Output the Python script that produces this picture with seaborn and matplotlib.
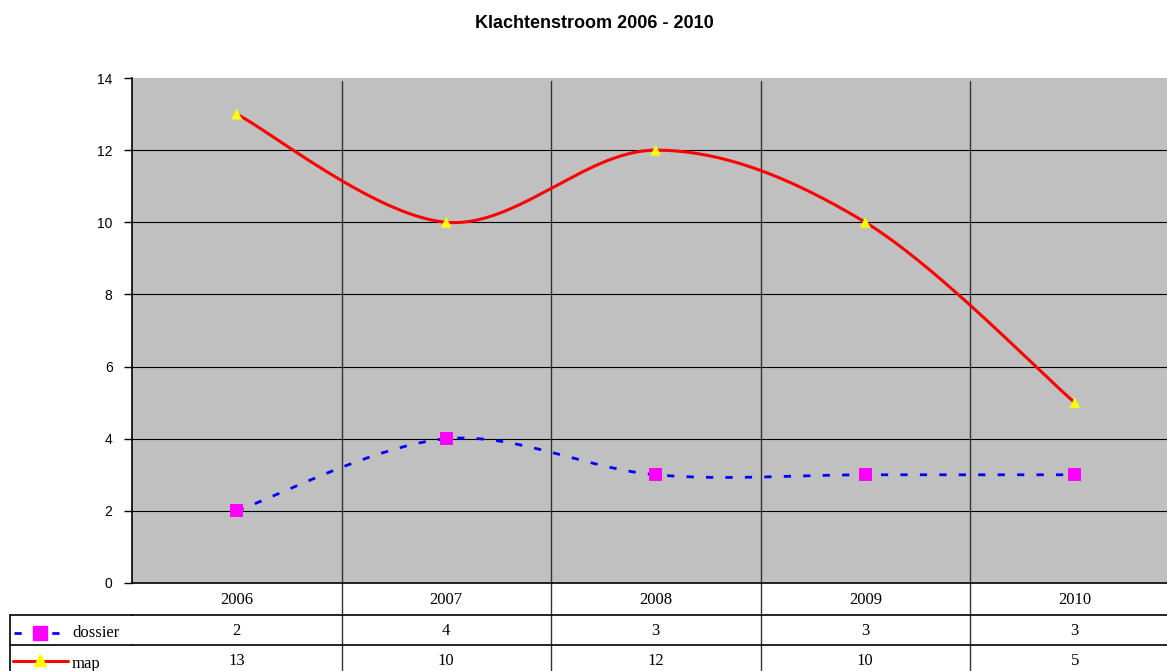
import numpy as np
import pandas as pd
import matplotlib
matplotlib.use("Agg")
import matplotlib.pyplot as plt
import matplotlib.transforms as mtransforms
from matplotlib.lines import Line2D
import seaborn as sns

# Chart data
TITLE = "Klachtenstroom 2006 - 2010"
years = ["2006", "2007", "2008", "2009", "2010"]
dossier = [2, 4, 3, 3, 3]
map_counts = [13, 10, 12, 10, 5]
y_ticks = [0, 2, 4, 6, 8, 10, 12, 14]

GRAY_BG = "#C0C0C0"
SERIF = ["Liberation Serif", "DejaVu Serif"]
DASHES = [2.6, 4.4]


def smooth_curve(xs, ys, steps=40):
    # Excel-style smoothed line: Bezier segments with Catmull-Rom tangents
    pts = np.column_stack([xs, ys]).astype(float)
    n = len(pts)
    out = []
    for i in range(n - 1):
        p0 = pts[max(i - 1, 0)]
        p1 = pts[i]
        p2 = pts[i + 1]
        p3 = pts[min(i + 2, n - 1)]
        b1 = p1 + (p2 - p0) / 6.0
        b2 = p2 - (p3 - p1) / 6.0
        t = np.linspace(0, 1, steps, endpoint=(i == n - 2))[:, None]
        seg = ((1 - t) ** 3) * p1 + 3 * ((1 - t) ** 2) * t * b1 + 3 * (1 - t) * t ** 2 * b2 + t ** 3 * p2
        out.append(seg)
    out = np.vstack(out)
    return out[:, 0], out[:, 1]


sns.set_style("white")
plt.rcParams.update({
    "font.family": ["Liberation Sans", "DejaVu Sans"],
    "axes.edgecolor": "black",
    "text.color": "black",
    "ytick.color": "black",
})

fig = plt.figure(figsize=(11.67, 6.71), dpi=100)
ax = fig.add_axes([132 / 1167, 88 / 671, 1047.5 / 1167, 505 / 671])
ax.set_facecolor(GRAY_BG)

xs = np.arange(len(years))
mx, my = smooth_curve(xs, map_counts)
dx, dy = smooth_curve(xs, dossier)

curves = pd.concat([
    pd.DataFrame({"x": mx, "y": my, "serie": "map"}),
    pd.DataFrame({"x": dx, "y": dy, "serie": "dossier"}),
])
sns.lineplot(data=curves[curves.serie == "map"], x="x", y="y", ax=ax, sort=False,
             estimator=None, color="#FF0000", lw=2.2, zorder=3)
sns.lineplot(data=curves[curves.serie == "dossier"], x="x", y="y", ax=ax, sort=False,
             estimator=None, color="#0000FF", lw=2.0, zorder=3)
ax.lines[-1].set_dashes(DASHES)

pts = pd.DataFrame({"x": xs, "map": map_counts, "dossier": dossier})
sns.scatterplot(data=pts, x="x", y="map", ax=ax, marker="^", s=60, color="#FFFF00",
                edgecolor="none", zorder=4)
sns.scatterplot(data=pts, x="x", y="dossier", ax=ax, marker="s", s=90, color="#FF00FF",
                edgecolor="none", zorder=4)

ax.set_xlim(-0.5, len(years) - 0.5)
ax.set_ylim(0, 14)
ax.set_yticks(y_ticks)
ax.set_yticklabels([str(v) for v in y_ticks], fontsize=10)
ax.set_xticks([])
ax.set_xlabel("")
ax.set_ylabel("")
ax.tick_params(axis="y", direction="out", length=6, width=1, color="black", left=True, pad=8)
ax.grid(False)
for v in y_ticks[1:-1]:
    ax.axhline(v, color="black", lw=0.8, zorder=1)
for sp in ["top", "right"]:
    ax.spines[sp].set_visible(False)
ax.spines["left"].set_linewidth(1.2)
ax.spines["bottom"].set_linewidth(1.2)

# data table under the plot
trans = mtransforms.blended_transform_factory(ax.transData, ax.transAxes)
row_h = 1.0 / 505
y_lines = [-32 * row_h, -62 * row_h]
for b in np.arange(0.5, len(years) - 1, 1.0):
    ax.plot([b, b], [-90 * row_h, 1 - 3 * row_h], transform=trans, color="#333333",
            lw=1.0, clip_on=False, zorder=2)
for yl in y_lines:
    ax.plot([-0.5, len(years)], [yl, yl], transform=trans, color="black", lw=1.2, clip_on=False)

# legend cells on the left of the table
fig.add_artist(Line2D([10 / 1167, 132 / 1167], [1 - 615 / 671] * 2, color="black", lw=1.2))
fig.add_artist(Line2D([10 / 1167, 132 / 1167], [1 - 645 / 671] * 2, color="black", lw=1.2))
fig.add_artist(Line2D([10 / 1167, 10 / 1167], [1 - 615 / 671, 0], color="black", lw=1.2))
fig.add_artist(Line2D([14 / 1167, 59 / 1167], [1 - 633 / 671] * 2, color="#0000FF", lw=2.0,
                      dashes=[2.6, 11.0]))
fig.add_artist(Line2D([40 / 1167], [1 - 633 / 671], marker="s", markersize=10,
                      color="#FF00FF", lw=0))
fig.add_artist(Line2D([13 / 1167, 68 / 1167], [1 - 661 / 671] * 2, color="#FF0000", lw=2.2))
fig.add_artist(Line2D([40 / 1167], [1 - 660 / 671], marker="^", markersize=8,
                      color="#FFFF00", lw=0))
fig.text(72 / 1167, 1 - 633 / 671, "dossier", family=SERIF, fontsize=12, va="center")
fig.text(72 / 1167, 1 - 664 / 671, "map", family=SERIF, fontsize=12, va="center")

for i, yr in enumerate(years):
    ax.text(i, -17 * row_h, yr, transform=trans, ha="center", va="center",
            family=SERIF, fontsize=12)
    ax.text(i, -48 * row_h, str(dossier[i]), transform=trans, ha="center", va="center",
            family=SERIF, fontsize=12)
    ax.text(i, -78 * row_h, str(map_counts[i]), transform=trans, ha="center", va="center",
            family=SERIF, fontsize=12)

fig.text(594 / 1167, 1 - 23 / 671, TITLE, ha="center", va="center", fontsize=13,
         fontweight="bold")

fig.savefig("out.png", dpi=100)
